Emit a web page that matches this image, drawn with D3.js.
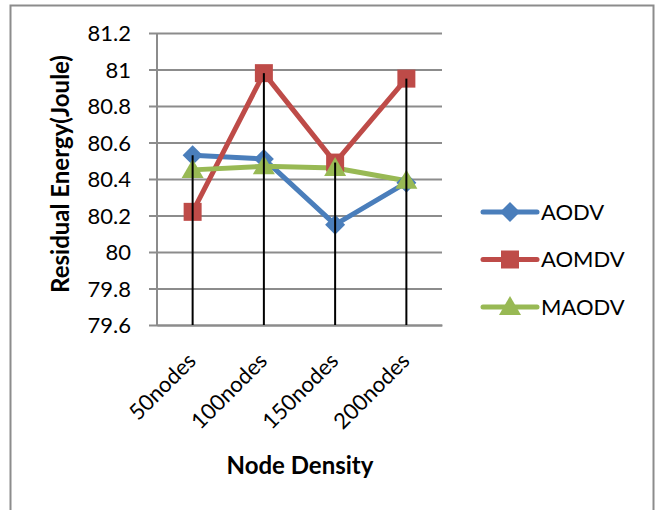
<!DOCTYPE html>
<html>
<head>
<meta charset="utf-8">
<script src="https://cdn.jsdelivr.net/npm/d3@7"></script>
<style>
body{margin:0;background:#fff;}
text{font-family:Lato,'Open Sans',sans-serif;fill:#000;}
</style>
</head>
<body>
<svg id="chart" width="657" height="510"></svg>
<script>
// data
const categories = ['50nodes','100nodes','150nodes','200nodes']
const aodv = [80.53, 80.51, 80.15, 80.38]
const aomdv = [80.22, 80.98, 80.49, 80.95]
const maodv = [80.45, 80.47, 80.46, 80.39]
const yTicks = [79.6, 79.8, 80, 80.2, 80.4, 80.6, 80.8, 81, 81.2]

const series = [
	{name:'AODV', values:aodv, color:'#4a7ebb', marker:'diamond'},
	{name:'AOMDV', values:aomdv, color:'#be4b48', marker:'square'},
	{name:'MAODV', values:maodv, color:'#98b954', marker:'triangle'},
]

let plot = {left:157, right:442, top:33, bottom:325}

const svg = d3.select('#chart')

// chart border
svg.append('rect')
	.attr('x',10.5).attr('y',5.5)
	.attr('width',643).attr('height',520)
	.attr('fill','none')
	.attr('stroke','#8c8c8c')
	.attr('stroke-width',2)

const xScale = d3.scaleBand()
	.domain(categories)
	.range([plot.left, plot.right])

const yScale = d3.scaleLinear()
	.domain([79.6, 81.2])
	.range([plot.bottom, plot.top])

const cx = (c)=> xScale(c) + xScale.bandwidth()/2

// gridlines + y axis
const axisY = svg.append('g')
	.attr('transform',`translate(${plot.left},0)`)
	.call(d3.axisLeft(yScale)
		.tickValues(yTicks)
		.tickSize(-(plot.right - plot.left))
		.tickSizeOuter(0)
		.tickPadding(26)
		.tickFormat(d3.format('')))
axisY.select('.domain').remove()
axisY.selectAll('line')
	.attr('stroke','#8c8c8c')
	.attr('stroke-width',2)
	.attr('x1',-8)
axisY.selectAll('text')
	.attr('font-size','22px')
	.attr('font-family','Lato, sans-serif')
	.attr('dy','0.35em')

svg.append('line')
	.attr('x1',plot.left).attr('x2',plot.left)
	.attr('y1',plot.top).attr('y2',plot.bottom)
	.attr('stroke','#8c8c8c').attr('stroke-width',2)

// x axis labels
const axisX = svg.append('g')
	.attr('transform',`translate(0,${plot.bottom})`)
	.call(d3.axisBottom(xScale).tickSize(0).tickSizeOuter(0))
axisX.select('.domain')
	.attr('stroke','#8c8c8c').attr('stroke-width',2)
axisX.selectAll('text')
	.attr('font-size','22px')
	.attr('font-family','Lato, sans-serif')
	.attr('text-anchor','end')
	.attr('x',-23)
	.attr('y',22)
	.attr('dy','0.35em')
	.attr('transform','rotate(-45)')

const line = d3.line()
	.x((d,i)=>cx(categories[i]))
	.y(d=>yScale(d))

const markerPath = (type, x, y)=>{
	switch(type){
		case 'diamond':
		return `M${x},${y-10}L${x+10},${y}L${x},${y+10}L${x-10},${y}Z`
		case 'square':
		return `M${x-9},${y-9}h18v18h-18Z`
		case 'triangle':
		return `M${x},${y-11}L${x+11},${y+8}L${x-11},${y+8}Z`
	}
}

const seriesG = svg.append('g')

for(let s of series){
	seriesG.append('path')
		.attr('d', line(s.values))
		.attr('fill','none')
		.attr('stroke',s.color)
		.attr('stroke-width',5)
		.attr('stroke-linejoin','round')
		.attr('stroke-linecap','round')
}

for(let s of series){
	seriesG.selectAll(`.m_${s.name}`)
		.data(s.values)
		.enter()
		.append('path')
		.attr('d',(d,i)=>markerPath(s.marker, cx(categories[i]), yScale(d)))
		.attr('fill',s.color)
}

// drop lines from highest point, on top of markers
svg.append('g').classed('dropLines',true).selectAll('line')
	.data(categories)
	.enter()
	.append('line')
	.attr('x1',c=>cx(c)).attr('x2',c=>cx(c))
	.attr('y1',(c,i)=>yScale(d3.max(series, s=>s.values[i])))
	.attr('y2',plot.bottom)
	.attr('stroke','#000')
	.attr('stroke-width',2)

// legend
const legend = svg.append('g')
series.forEach((s,i)=>{
	let y = 212 + i*47.5
	legend.append('line')
		.attr('x1',483).attr('x2',537)
		.attr('y1',y).attr('y2',y)
		.attr('stroke',s.color)
		.attr('stroke-width',5)
		.attr('stroke-linecap','round')
	legend.append('path')
		.attr('d',markerPath(s.marker,510,y))
		.attr('fill',s.color)
	legend.append('text')
		.text(s.name)
		.attr('x',541)
		.attr('y',y)
		.attr('dy','0.35em')
		.attr('font-size','22px')
})

// axis titles
svg.append('text')
	.text('Residual Energy(Joule)')
	.attr('transform',`translate(69,174) rotate(-90)`)
	.attr('text-anchor','middle')
	.attr('font-weight','bold')
	.attr('font-size','24px')

svg.append('text')
	.text('Node Density')
	.attr('x',300)
	.attr('y',474)
	.attr('text-anchor','middle')
	.attr('font-weight','bold')
	.attr('font-size','24px')
</script>
</body>
</html>
